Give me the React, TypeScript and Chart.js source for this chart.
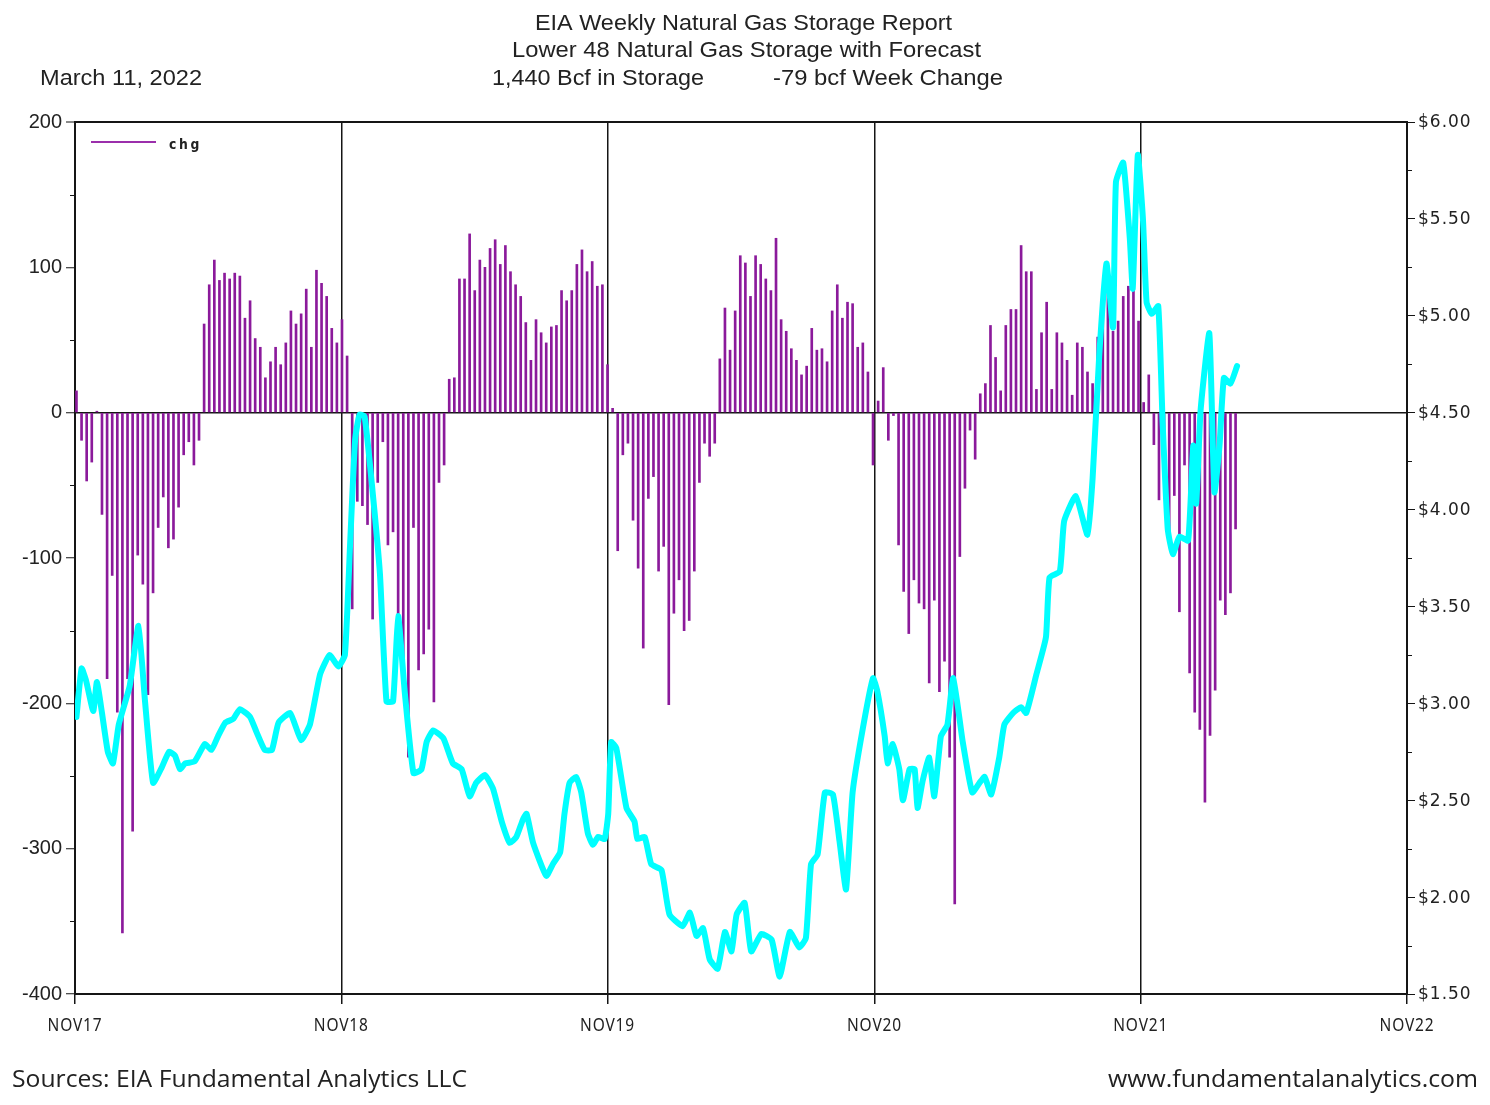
import { useEffect, useRef } from 'react';
import { Chart, registerables } from 'chart.js';

Chart.register(...registerables);

// ---- data ----
const AXIS_ORIGIN = '2017-11-01';
const AXIS_END = '2022-11-01';
const xTickDates = ['2017-11-01', '2018-11-01', '2019-11-01', '2020-11-01', '2021-11-01', '2022-11-01'];
const xTickLabels = ['NOV17', 'NOV18', 'NOV19', 'NOV20', 'NOV21', 'NOV22'];
const leftTickValues = [-400, -350, -300, -250, -200, -150, -100, -50, 0, 50, 100, 150, 200];
const rightTickValues = [1.5, 1.75, 2, 2.25, 2.5, 2.75, 3, 3.25, 3.5, 3.75, 4, 4.25, 4.5, 4.75, 5, 5.25, 5.5, 5.75, 6];

// weekly storage change (bcf), first report week ending 2017-11-03
const firstWeek = '2017-11-03';
const storageChange = [
  15, -19, -47, -34, 1, -70, -183, -112, -206, -358, -183, -288, -98, -118, -194, -124, -79, -58, -93, -87,
  -65, -29, -20, -36, -19, 61, 88, 105, 91, 96, 92, 96, 94, 65, 77, 51, 45, 24, 35, 45,
  33, 48, 70, 61, 68, 85, 45, 98, 89, 80, 58, 48, 64, 39, -135, -61, -64, -77, -142, -48,
  -20, -91, -82, -163, -173, -237, -79, -177, -166, -149, -199, -48, -36, 23, 24, 92, 92, 123, 84, 105,
  100, 113, 119, 102, 115, 97, 88, 80, 62, 36, 64, 55, 48, 59, 60, 84, 77, 84, 102, 112,
  97, 104, 87, 88, 33, 3, -95, -29, -21, -74, -107, -162, -59, -44, -109, -92, -201, -138, -115, -150,
  -143, -109, -48, -21, -30, -21, 37, 72, 43, 70, 108, 103, 80, 108, 102, 92, 84, 120, 64, 56,
  44, 36, 26, 32, 58, 43, 44, 35, 70, 88, 65, 76, 75, 45, 48, 28, -36, 8, 31, -19,
  -2, -91, -123, -152, -115, -131, -135, -186, -129, -192, -171, -237, -338, -99, -52, -12, -32, 13, 20, 60,
  38, 15, 60, 71, 71, 115, 97, 97, 16, 55, 76, 16, 55, 48, 36, 12, 48, 45, 28, 20,
  52, 83, 88, 56, 63, 80, 87, 89, 63, 7, 26, -22, -60, -21, -88, -57, -137, -36, -179, -206,
  -218, -268, -222, -191, -129, -139, -124, -80,
];

// natural gas price ($/MMBtu); days counted from AXIS_ORIGIN
const priceDay = [
  2, 9, 15, 25, 30, 37, 45, 52, 60, 75, 87, 96, 107, 119, 129, 137, 144, 151, 164, 178,
  187, 196, 206, 217, 226, 240, 249, 260, 270, 279, 295, 310, 322, 336, 349, 361, 370, 377, 384, 390,
  397, 407, 418, 427, 436, 443, 452, 464, 475, 482, 491, 505, 518, 530, 541, 550, 562, 573, 585, 596,
  605, 614, 619, 628, 646, 655, 665, 671, 678, 687, 694, 703, 710, 717, 726, 731, 735, 742, 756, 767,
  771, 781, 790, 804, 815, 833, 843, 852, 861, 870, 881, 891, 900, 907, 918, 927, 941, 955, 966, 980,
  993, 1002, 1009, 1018, 1028, 1039, 1048, 1057, 1066, 1080, 1094, 1100, 1110, 1114, 1121, 1130, 1135, 1144, 1151, 1155,
  1162, 1171, 1178, 1187, 1196, 1204, 1217, 1230, 1240, 1247, 1256, 1267, 1274, 1286, 1297, 1304, 1318, 1331, 1336, 1350,
  1356, 1372, 1388, 1395, 1404, 1414, 1423, 1427, 1437, 1446, 1450, 1457, 1464, 1469, 1476, 1485, 1491, 1498, 1505, 1514,
  1526, 1533, 1537, 1543, 1555, 1562, 1569, 1575, 1584, 1593,
];
const price = [
  2.93, 3.18, 3.12, 2.96, 3.11, 2.95, 2.75, 2.69, 2.89, 3.09, 3.40, 3.01, 2.59, 2.67, 2.75, 2.73, 2.66, 2.69, 2.70, 2.79,
  2.76, 2.83, 2.90, 2.92, 2.97, 2.93, 2.85, 2.76, 2.76, 2.90, 2.95, 2.81, 2.89, 3.15, 3.25, 3.19, 3.25, 3.81, 4.36, 4.49,
  4.48, 4.13, 3.67, 3.01, 3.01, 3.45, 3.06, 2.64, 2.66, 2.80, 2.86, 2.82, 2.69, 2.66, 2.52, 2.59, 2.63, 2.56, 2.39, 2.28,
  2.31, 2.40, 2.43, 2.28, 2.11, 2.17, 2.23, 2.43, 2.59, 2.62, 2.54, 2.33, 2.27, 2.31, 2.30, 2.43, 2.80, 2.77, 2.46, 2.39,
  2.30, 2.31, 2.17, 2.14, 1.91, 1.85, 1.92, 1.80, 1.84, 1.68, 1.63, 1.82, 1.72, 1.91, 1.97, 1.72, 1.81, 1.78, 1.59, 1.82,
  1.74, 1.79, 2.17, 2.22, 2.54, 2.53, 2.29, 2.04, 2.54, 2.87, 3.13, 3.06, 2.83, 2.69, 2.79, 2.66, 2.50, 2.66, 2.66, 2.46,
  2.60, 2.72, 2.52, 2.83, 2.89, 3.13, 2.80, 2.54, 2.59, 2.62, 2.53, 2.72, 2.89, 2.95, 2.98, 2.95, 3.15, 3.34, 3.65, 3.68,
  3.94, 4.07, 3.87, 4.16, 4.79, 5.27, 4.94, 5.69, 5.79, 5.40, 5.14, 5.83, 5.50, 5.07, 5.01, 5.05, 4.45, 3.90, 3.77, 3.86,
  3.84, 4.33, 4.03, 4.51, 4.91, 4.09, 4.33, 4.68, 4.65, 4.74,
];

const titleLines = ['EIA Weekly Natural Gas Storage Report', 'Lower 48 Natural Gas Storage with Forecast'];
const reportDate = 'March 11, 2022';
const storageText = '1,440 Bcf in Storage';
const changeText = '-79 bcf Week Change';
const legendLabel = 'chg';
const footerLeft = 'Sources: EIA Fundamental Analytics LLC';
const footerRight = 'www.fundamentalanalytics.com';

// ---- helpers ----
const DAY = 86400000;
const dayOf = (d: string) => Math.round((Date.parse(d + 'T00:00:00Z') - Date.parse(AXIS_ORIGIN + 'T00:00:00Z')) / DAY);

const TEXT = '#222222';
const PURPLE = '#8B1A9B';
const CYAN = '#00FFFF';
const FRAME = '#151515';

function drawFitted(
  ctx: CanvasRenderingContext2D,
  text: string,
  x: number,
  y: number,
  font: string,
  targetW: number,
  align: 'left' | 'center' | 'right',
  spacing = '0px'
) {
  ctx.save();
  ctx.font = font;
  (ctx as any).letterSpacing = spacing;
  const w = ctx.measureText(text).width;
  const sx = targetW / w;
  const left = align === 'left' ? x : align === 'center' ? x - targetW / 2 : x - targetW;
  ctx.translate(left, y);
  ctx.scale(sx, 1);
  ctx.textAlign = 'left';
  ctx.textBaseline = 'alphabetic';
  ctx.fillStyle = TEXT;
  ctx.fillText(text, 0, 0);
  ctx.restore();
}

const decorPlugin = {
  id: 'decor',
  afterDraw(chart: any) {
    const ctx: CanvasRenderingContext2D = chart.ctx;
    const { x, y, y1 } = chart.scales;
    const area = chart.chartArea;

    // header
    drawFitted(ctx, titleLines[0], 743.5, 30, '22px "Liberation Sans"', 417, 'center');
    drawFitted(ctx, titleLines[1], 746.5, 57, '22px "Liberation Sans"', 469, 'center');
    drawFitted(ctx, reportDate, 40, 85, '22px "Liberation Sans"', 162, 'left');
    drawFitted(ctx, storageText, 492, 85, '22px "Liberation Sans"', 212, 'left');
    drawFitted(ctx, changeText, 773, 85, '22px "Liberation Sans"', 230, 'left');

    // legend
    ctx.save();
    ctx.strokeStyle = '#9B2FAB';
    ctx.lineWidth = 2;
    ctx.beginPath();
    ctx.moveTo(91, 142);
    ctx.lineTo(156, 142);
    ctx.stroke();
    ctx.restore();
    drawFitted(ctx, legendLabel, 169, 149, 'bold 14px "DejaVu Sans"', 33, 'left', '3px');

    // minor ticks
    ctx.save();
    ctx.strokeStyle = FRAME;
    ctx.lineWidth = 1;
    leftTickValues.forEach((v) => {
      if (v % 100 !== 0) {
        const py = Math.round(y.getPixelForValue(v)) + 0.5;
        ctx.beginPath();
        ctx.moveTo(area.left - 5, py);
        ctx.lineTo(area.left, py);
        ctx.stroke();
      }
    });
    rightTickValues.forEach((v) => {
      if (Math.abs(v * 2 - Math.round(v * 2)) > 1e-6) {
        const py = Math.round(y1.getPixelForValue(v)) + 0.5;
        ctx.beginPath();
        ctx.moveTo(area.right, py);
        ctx.lineTo(area.right + 5, py);
        ctx.stroke();
      }
    });
    ctx.restore();

    // right axis labels
    ctx.save();
    ctx.font = '17px "DejaVu Sans"';
    (ctx as any).letterSpacing = '1px';
    ctx.fillStyle = TEXT;
    ctx.textAlign = 'left';
    ctx.textBaseline = 'middle';
    rightTickValues.forEach((v) => {
      if (Math.abs(v * 2 - Math.round(v * 2)) < 1e-6) {
        ctx.fillText('$' + v.toFixed(2), area.right + 11, y1.getPixelForValue(v) + 1);
      }
    });
    ctx.restore();

    // x axis labels
    xTickDates.forEach((d, i) => {
      const px = x.getPixelForValue(dayOf(d));
      drawFitted(ctx, xTickLabels[i], px, 1031, '18px "Noto Sans"', 55, 'center', '1px');
    });

    // footer
    drawFitted(ctx, footerLeft, 12, 1087, '24px "Open Sans"', 455, 'left');
    drawFitted(ctx, footerRight, 1478, 1087, '24px "Open Sans"', 370, 'right');
  },
};

export default function App() {
  const ref = useRef<HTMLCanvasElement | null>(null);

  useEffect(() => {
    const canvas = ref.current;
    if (!canvas) return;
    const start = dayOf(firstWeek);
    const barData = storageChange.map((v, i) => ({ x: start + 7 * i, y: v }));
    const lineData = priceDay.map((d, i) => ({ x: d, y: price[i] }));

    const chart = new Chart(canvas, {
      type: 'bar',
      data: {
        datasets: [
          {
            type: 'line',
            label: 'price',
            data: lineData,
            yAxisID: 'y1',
            xAxisID: 'x',
            borderColor: CYAN,
            borderWidth: 6,
            pointRadius: 0,
            tension: 0.15,
            borderJoinStyle: 'round',
            borderCapStyle: 'round',
            order: 0,
          } as any,
          {
            type: 'bar',
            label: legendLabel,
            data: barData,
            yAxisID: 'y',
            xAxisID: 'x',
            backgroundColor: PURPLE,
            barThickness: 2,
            order: 1,
          } as any,
        ],
      },
      options: {
        animation: false,
        responsive: false,
        devicePixelRatio: 1,
        layout: { padding: { top: 122, left: 0, right: 0, bottom: 0 } },
        plugins: { legend: { display: false }, tooltip: { enabled: false }, title: { display: false } },
        scales: {
          x: {
            type: 'linear',
            min: 0,
            max: dayOf(AXIS_END),
            offset: false,
            afterBuildTicks: (s: any) => {
              s.ticks = xTickDates.map((d) => ({ value: dayOf(d) }));
            },
            afterFit: (s: any) => {
              s.height = 111;
            },
            ticks: { display: false },
            grid: { color: FRAME, lineWidth: 1.5, drawTicks: true, tickLength: 10, offset: false },
            border: { display: true, color: FRAME, width: 2 },
          },
          y: {
            type: 'linear',
            position: 'left',
            min: -400,
            max: 200,
            afterBuildTicks: (s: any) => {
              s.ticks = leftTickValues.map((v) => ({ value: v }));
            },
            afterFit: (s: any) => {
              s.width = 75;
            },
            ticks: {
              autoSkip: false,
              font: { family: 'Liberation Sans', size: 20 },
              color: TEXT,
              padding: 4,
              callback: (v: any) => (Number(v) % 100 === 0 ? String(v) : ''),
            },
            grid: {
              color: (c: any) => (c.tick && (c.tick.value === 0 || c.tick.value === 200) ? FRAME : 'rgba(0,0,0,0)'),
              tickColor: (c: any) => (c.tick && c.tick.value % 100 === 0 ? FRAME : 'rgba(0,0,0,0)'),
              lineWidth: (c: any) => (c.tick && c.tick.value === 200 ? 2 : 1.5),
              tickWidth: 1,
              tickLength: 9,
              drawTicks: true,
            },
            border: { display: true, color: FRAME, width: 2 },
          },
          y1: {
            type: 'linear',
            position: 'right',
            min: 1.5,
            max: 6,
            afterBuildTicks: (s: any) => {
              s.ticks = rightTickValues.map((v) => ({ value: v }));
            },
            afterFit: (s: any) => {
              s.width = 83;
            },
            ticks: { display: false },
            grid: {
              drawOnChartArea: false,
              tickColor: (c: any) => (c.tick && Math.abs(c.tick.value * 2 - Math.round(c.tick.value * 2)) < 1e-6 ? FRAME : 'rgba(0,0,0,0)'),
              tickLength: 8,
              tickWidth: 1,
              drawTicks: true,
            },
            border: { display: true, color: FRAME, width: 2 },
          },
        },
      } as any,
      plugins: [decorPlugin],
    });

    return () => chart.destroy();
  }, []);

  return (
    <div style={{ position: 'fixed', left: 0, top: 0, width: 1490, height: 1105, background: '#ffffff' }}>
      <canvas ref={ref} width={1490} height={1105} style={{ display: 'block', width: 1490, height: 1105 }} />
    </div>
  );
}
